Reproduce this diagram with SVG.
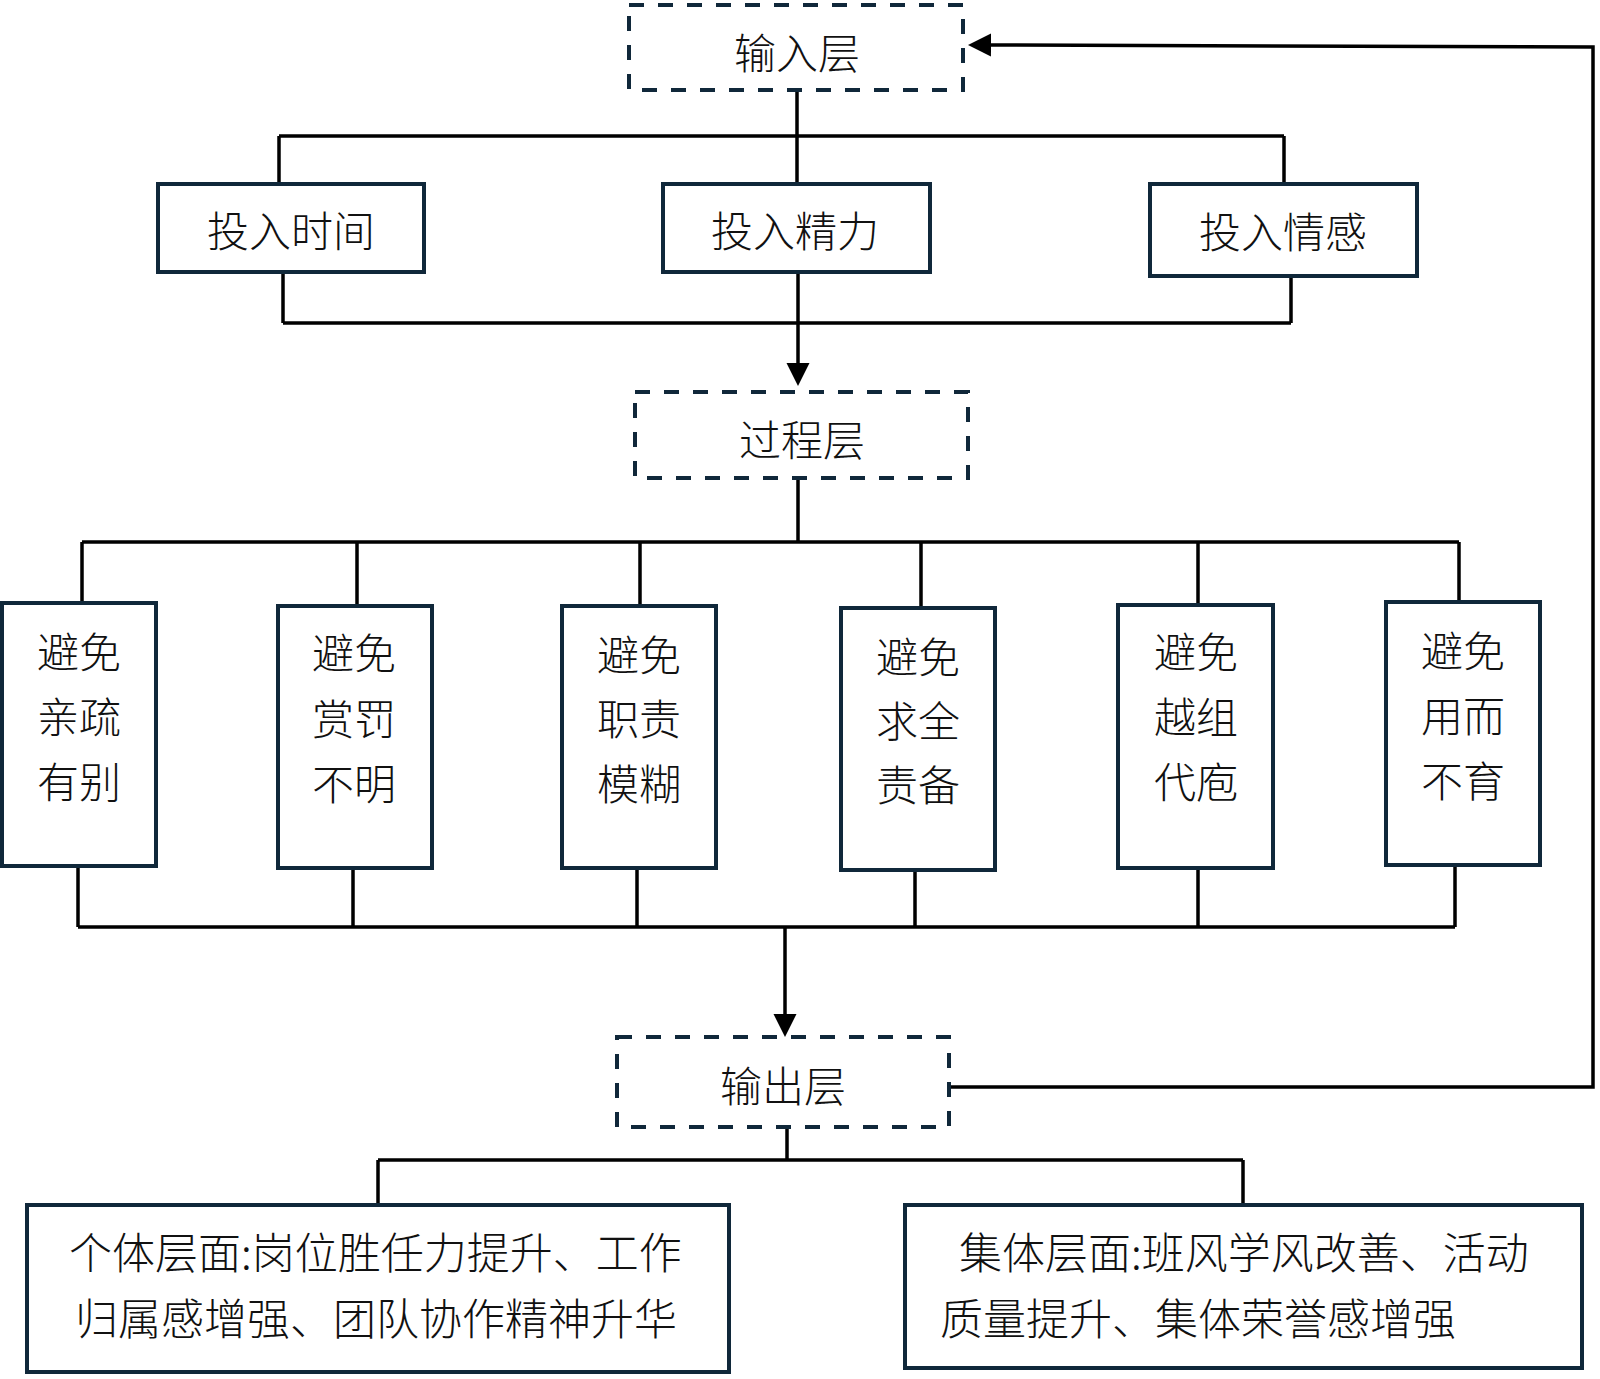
<svg xmlns="http://www.w3.org/2000/svg" width="1600" height="1379" viewBox="0 0 1600 1379">
<style>
.box{fill:#fff;stroke:#10283a;stroke-width:4}
.dash{fill:#fff;stroke:#10283a;stroke-width:4;stroke-dasharray:15 14}
.t{font-family:"Noto Sans CJK SC","Noto Sans CJK TC","Liberation Sans",sans-serif;font-size:42px;font-weight:300;fill:#111;text-anchor:middle;dominant-baseline:central}
.tl{font-family:"Noto Sans CJK SC","Liberation Sans",sans-serif;font-size:43px;font-weight:300;fill:#111;dominant-baseline:central}
.c{fill:none;stroke:#000;stroke-width:3.5}
</style>
<defs>
<marker id="ah" markerWidth="24" markerHeight="24" refX="0" refY="12" orient="auto" markerUnits="userSpaceOnUse">
<path d="M0,0.5 L23,12 L0,23.5 z" fill="#000"/>
</marker>
</defs>
<rect width="1600" height="1379" fill="#fff"/>
<g id="connectors">
<path class="c" d="M797,90 V136 M279,136 H1284 M279,136 V184 M797,136 V184 M1284,136 V184"/>
<path class="c" d="M283,272 V323 M1291,276 V323 M283,323 H1291"/>
<path class="c" d="M798,272 V363" marker-end="url(#ah)"/>
<path class="c" d="M798,478 V542 M82,542 H1459 M82,542 V603 M357,542 V606 M640,542 V606 M921,542 V608 M1198,542 V605 M1459,542 V602"/>
<path class="c" d="M78,866 V927 M353,868 V927 M637,868 V927 M915,870 V927 M1198,867 V927 M1455,864 V927 M78,927 H1455"/>
<path class="c" d="M785,927 V1014" marker-end="url(#ah)"/>
<path class="c" d="M787,1127 V1160 M378,1160 H1243 M378,1160 V1205 M1243,1160 V1205"/>
<path class="c" d="M950,1087 H1593 V47 L991,45" marker-end="url(#ah)"/>
</g>
<g id="input"><rect class="dash" x="629" y="5" width="334" height="85"/><text class="t" x="797" y="50">输入层</text></g>
<g id="time"><rect class="box" x="158" y="184" width="266" height="88"/><text class="t" x="291" y="228">投入时间</text></g>
<g id="energy"><rect class="box" x="663" y="184" width="267" height="88"/><text class="t" x="795" y="228">投入精力</text></g>
<g id="emotion"><rect class="box" x="1150" y="184" width="267" height="92"/><text class="t" x="1283" y="229">投入情感</text></g>
<g id="process"><rect class="dash" x="635" y="392" width="333" height="86"/><text class="t" x="802" y="437">过程层</text></g>
<g id="p1"><rect class="box" x="2" y="603" width="154" height="263"/><text class="t" x="79" y="649">避免</text><text class="t" x="79" y="714">亲疏</text><text class="t" x="79" y="779">有别</text></g>
<g id="p2"><rect class="box" x="278" y="606" width="154" height="262"/><text class="t" x="354" y="650">避免</text><text class="t" x="354" y="716">赏罚</text><text class="t" x="354" y="781">不明</text></g>
<g id="p3"><rect class="box" x="562" y="606" width="154" height="262"/><text class="t" x="639" y="652">避免</text><text class="t" x="639" y="716">职责</text><text class="t" x="639" y="781">模糊</text></g>
<g id="p4"><rect class="box" x="841" y="608" width="154" height="262"/><text class="t" x="918" y="654">避免</text><text class="t" x="918" y="718">求全</text><text class="t" x="918" y="782">责备</text></g>
<g id="p5"><rect class="box" x="1118" y="605" width="155" height="263"/><text class="t" x="1196" y="649">避免</text><text class="t" x="1196" y="714">越组</text><text class="t" x="1196" y="779">代庖</text></g>
<g id="p6"><rect class="box" x="1386" y="602" width="154" height="263"/><text class="t" x="1463" y="648">避免</text><text class="t" x="1463" y="713">用而</text><text class="t" x="1463" y="778">不育</text></g>
<g id="output"><rect class="dash" x="617" y="1037" width="332" height="90"/><text class="t" x="783" y="1083">输出层</text></g>
<g id="individual"><rect class="box" x="27" y="1205" width="702" height="167"/><text class="tl" x="69" y="1250">个体层面:岗位胜任力提升、工作</text><text class="tl" x="75" y="1316">归属感增强、团队协作精神升华</text></g>
<g id="collective"><rect class="box" x="905" y="1205" width="677" height="163"/><text class="tl" x="959" y="1250">集体层面:班风学风改善、活动</text><text class="tl" x="940" y="1316">质量提升、集体荣誉感增强</text></g>
</svg>
